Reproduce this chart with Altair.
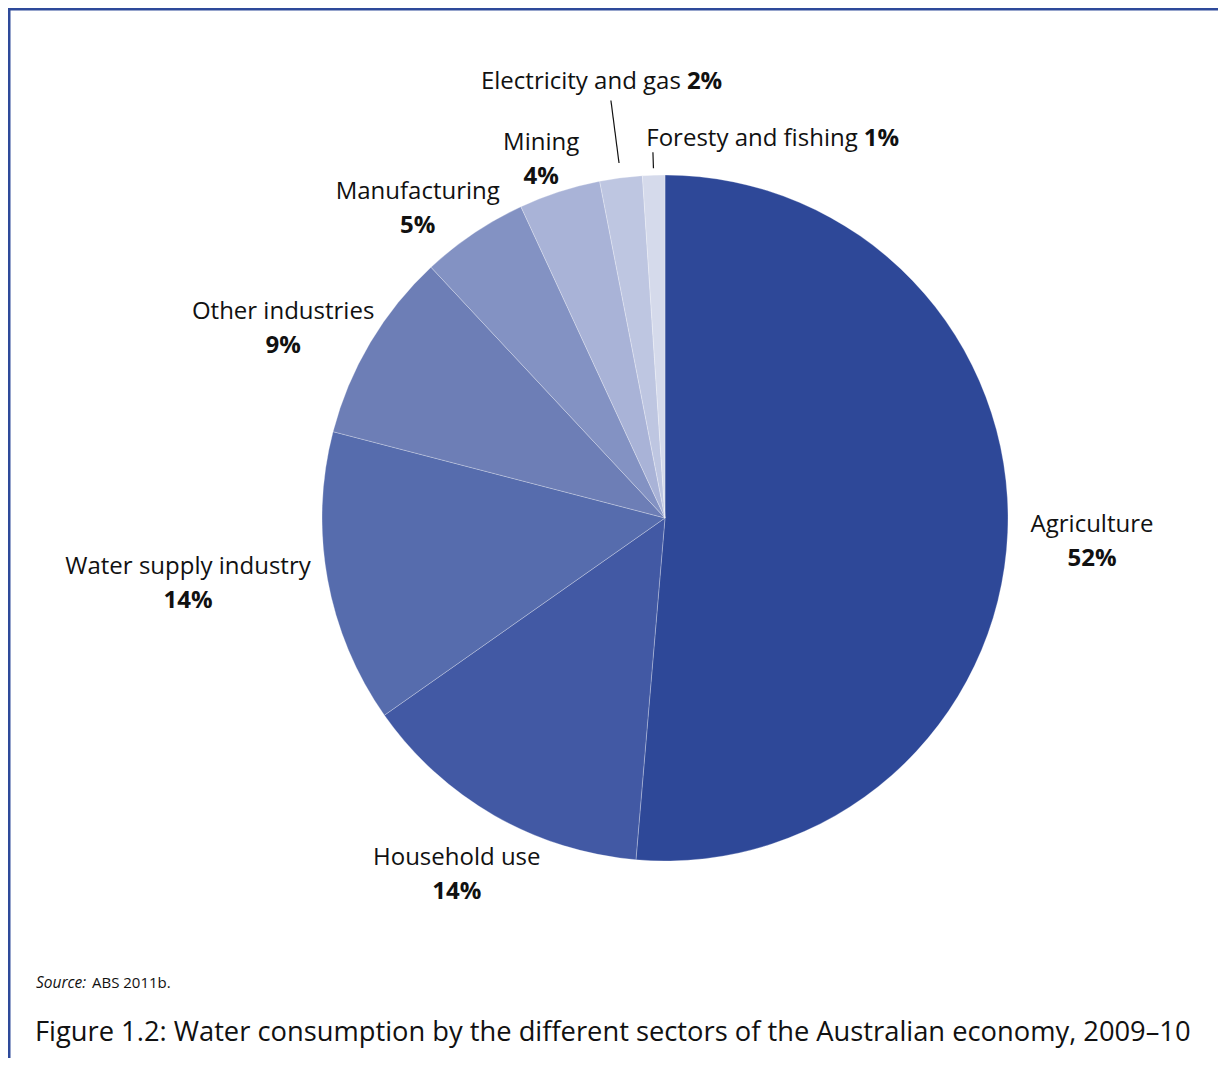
import math
import altair as alt
import pandas as pd

# ---------------- data ----------------
categories = ["Agriculture", "Household use", "Water supply industry", "Other industries",
              "Manufacturing", "Mining", "Electricity and gas", "Foresty and fishing"]
shares = [51.35, 13.9, 13.8, 9.0, 5.05, 3.85, 2.0, 1.05]
pct_labels = ["52%", "14%", "14%", "9%", "5%", "4%", "2%", "1%"]
colors = ["#2E4898", "#4259A4", "#566CAD", "#6D7EB6", "#8392C3", "#A9B3D7", "#BEC6E1", "#D5DAEB"]

title_text = "Figure 1.2: Water consumption by the different sectors of the Australian economy, 2009\u201310"
source_italic = "Source:"
source_text = "ABS 2011b."

# ---------------- layout ----------------
W, H = 1210, 1050
CX, CY, R = 657, 510, 343
FONT = "Open Sans"
NAME_SIZE = 24
LINE_GAP = 17
TEXT_DY = 2
FRAME = "#2E4A9A"

# label anchors: (angle in degrees clockwise from 12 o'clock, radius px, two-line?)
label_layout = [(92.95, 427.6, True), (210.4, 411.5, True), (262.4, 481.2, True),
                (296.6, 427.1, True), (321.5, 397.2, True), (341.0, 380.3, True),
                (2.6, 438.5, False), (27.3, 428.9, False)]
leader_radii = {6: (358, 421), 7: (350, 366)}


def polar(angle_deg, r):
    a = math.radians(angle_deg)
    return CX + r * math.sin(a), CY - r * math.cos(a)


pie_df = pd.DataFrame({"category": categories, "share": shares, "idx": list(range(len(categories)))})

total = sum(shares)
mids = []
acc = 0.0
for s in shares:
    mids.append((acc + s / 2) / total * 360)
    acc += s

name_rows, pct_rows, inline_name_rows, inline_pct_rows = [], [], [], []
for i, (ang, rad, two) in enumerate(label_layout):
    x, y = polar(ang, rad)
    y += TEXT_DY
    if two:
        name_rows.append({"x": x, "y": y - LINE_GAP, "t": categories[i]})
        pct_rows.append({"x": x, "y": y + LINE_GAP, "t": pct_labels[i]})
    else:
        inline_name_rows.append({"x": x - 4, "y": y, "t": categories[i]})
        inline_pct_rows.append({"x": x + 2, "y": y, "t": pct_labels[i]})

leader_rows = []
for i, (r0, r1) in leader_radii.items():
    x0, y0 = polar(mids[i], r0)
    x1, y1 = polar(mids[i], r1)
    leader_rows.append({"x": x0, "y": y0, "x2": x1, "y2": y1})

pie = alt.Chart(pie_df).mark_arc(radius=R, stroke="#ffffff", strokeWidth=0.6, strokeOpacity=0.45).encode(
    theta=alt.Theta("share:Q", stack=True),
    order=alt.Order("idx:Q"),
    color=alt.Color("category:N", scale=alt.Scale(domain=categories, range=colors), legend=None),
    x=alt.value(CX),
    y=alt.value(CY),
)


def text_layer(rows, align, bold=False, size=NAME_SIZE, italic=False):
    return alt.Chart(pd.DataFrame(rows)).mark_text(
        align=align, baseline="middle", font=FONT, fontSize=size,
        fontWeight="bold" if bold else "normal", fontStyle="italic" if italic else "normal",
        color="#111111",
    ).encode(x=alt.X("x:Q", scale=None), y=alt.Y("y:Q", scale=None), text="t:N")


names = text_layer(name_rows, "center")
pcts = text_layer(pct_rows, "center", bold=True)
inline_names = text_layer(inline_name_rows, "right")
inline_pcts = text_layer(inline_pct_rows, "left", bold=True)

leaders = alt.Chart(pd.DataFrame(leader_rows)).mark_rule(color="#111111", strokeWidth=1.2).encode(
    x=alt.X("x:Q", scale=None), y=alt.Y("y:Q", scale=None),
    x2="x2:Q", y2="y2:Q",
)

source_i = text_layer([{"x": 28, "y": 975, "t": source_italic}], "left", size=15.5, italic=True)
source_r = text_layer([{"x": 84, "y": 975, "t": source_text}], "left", size=15)

title = alt.Chart(pd.DataFrame([{"x": 27, "y": 1025, "t": title_text}])).mark_text(
    align="left", baseline="middle", font=FONT, fontSize=27.3, color="#111111"
).encode(x=alt.X("x:Q", scale=None), y=alt.Y("y:Q", scale=None), text="t:N")

frame = alt.Chart(pd.DataFrame([{"x": 0, "y": 1, "x2": W, "y2": 1}, {"x": 1, "y": 0, "x2": 1, "y2": H}])).mark_rule(
    color=FRAME, strokeWidth=3
).encode(x=alt.X("x:Q", scale=None), y=alt.Y("y:Q", scale=None), x2="x2:Q", y2="y2:Q")

chart = alt.layer(frame, pie, leaders, names, pcts, inline_names, inline_pcts, source_i, source_r, title).properties(
    width=W, height=H, padding=0, autosize=alt.AutoSizeParams(type="none")
).configure_view(stroke=None)

chart.save("out.html", embed_options={"renderer": "svg", "actions": False})
